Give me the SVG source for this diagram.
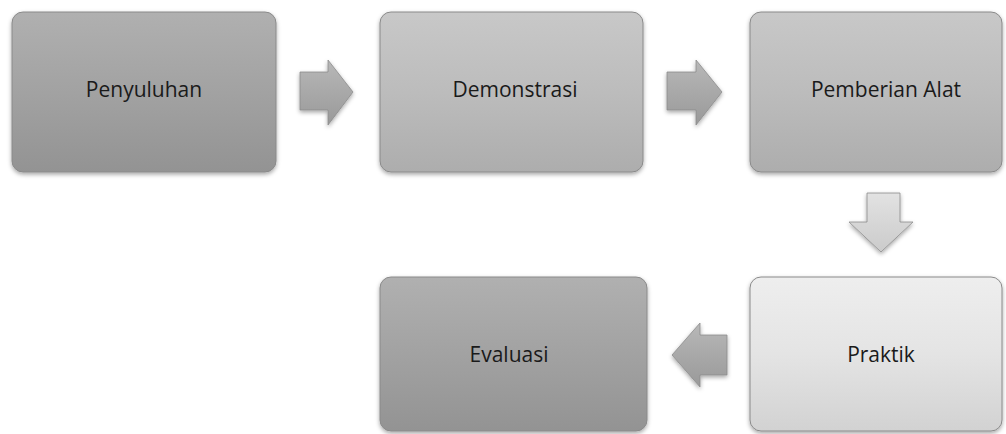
<svg xmlns="http://www.w3.org/2000/svg" width="1006" height="434" viewBox="0 0 1006 434">
<style>
.box{stroke:#8a8a8a;stroke-width:1}
.lbl{font-family:"Open Sans","Liberation Sans",sans-serif;font-size:21px;fill:#1a1a1a;text-anchor:middle;dominant-baseline:middle}
.arr{stroke:#8c8c8c;stroke-width:0.8}
</style>
<defs>
<linearGradient id="gDark" x1="0" y1="0" x2="0" y2="1"><stop offset="0" stop-color="#b0b0b0"/><stop offset="0.5" stop-color="#a2a2a2"/><stop offset="1" stop-color="#939393"/></linearGradient>
<linearGradient id="gMid" x1="0" y1="0" x2="0" y2="1"><stop offset="0" stop-color="#c8c8c8"/><stop offset="0.5" stop-color="#bcbcbc"/><stop offset="1" stop-color="#adadad"/></linearGradient>
<linearGradient id="gLight" x1="0" y1="0" x2="0" y2="1"><stop offset="0" stop-color="#eeeeee"/><stop offset="0.5" stop-color="#e4e4e4"/><stop offset="1" stop-color="#d2d2d2"/></linearGradient>
<linearGradient id="gArr" x1="0" y1="0" x2="0" y2="1"><stop offset="0" stop-color="#b8b8b8"/><stop offset="1" stop-color="#999999"/></linearGradient>
<linearGradient id="gArrL" x1="0" y1="0" x2="0" y2="1"><stop offset="0" stop-color="#e2e2e2"/><stop offset="1" stop-color="#cbcbcb"/></linearGradient>
<filter id="sh" x="-10%" y="-10%" width="120%" height="125%"><feDropShadow dx="0" dy="2" stdDeviation="2" flood-color="#000" flood-opacity="0.35"/></filter>
</defs>
<rect width="1006" height="434" fill="#ffffff"/>
<g id="connectors">
<path class="arr" fill="url(#gArr)" filter="url(#sh)" d="M300,72 H328 V60 L353,92 L328,125 V110 H300 Z"/>
<path class="arr" fill="url(#gArr)" filter="url(#sh)" d="M667,72 H696 V60 L722,92 L696,125 V110 H667 Z"/>
<path class="arr" fill="url(#gArrL)" filter="url(#sh)" d="M867,193 H900 V222 H913 L881,252 L849,222 H867 Z"/>
<path class="arr" fill="url(#gArr)" filter="url(#sh)" d="M727,335 H700 V323 L672,355 L700,387 V375 H727 Z"/>
</g>
<g id="node-penyuluhan">
<rect class="box" x="12" y="12" width="264" height="160" rx="11" fill="url(#gDark)" filter="url(#sh)"/>
<text class="lbl" x="144" y="91">Penyuluhan</text>
</g>
<g id="node-demonstrasi">
<rect class="box" x="380" y="12" width="263" height="160" rx="11" fill="url(#gMid)" filter="url(#sh)"/>
<text class="lbl" x="515" y="91">Demonstrasi</text>
</g>
<g id="node-pemberian-alat">
<rect class="box" x="750" y="12" width="252" height="160" rx="11" fill="url(#gMid)" filter="url(#sh)"/>
<text class="lbl" x="886" y="91">Pemberian Alat</text>
</g>
<g id="node-praktik">
<rect class="box" x="750" y="277" width="252" height="154" rx="11" fill="url(#gLight)" filter="url(#sh)"/>
<text class="lbl" x="881" y="356">Praktik</text>
</g>
<g id="node-evaluasi">
<rect class="box" x="380" y="277" width="267" height="154" rx="11" fill="url(#gDark)" filter="url(#sh)"/>
<text class="lbl" x="509" y="356">Evaluasi</text>
</g>
</svg>
